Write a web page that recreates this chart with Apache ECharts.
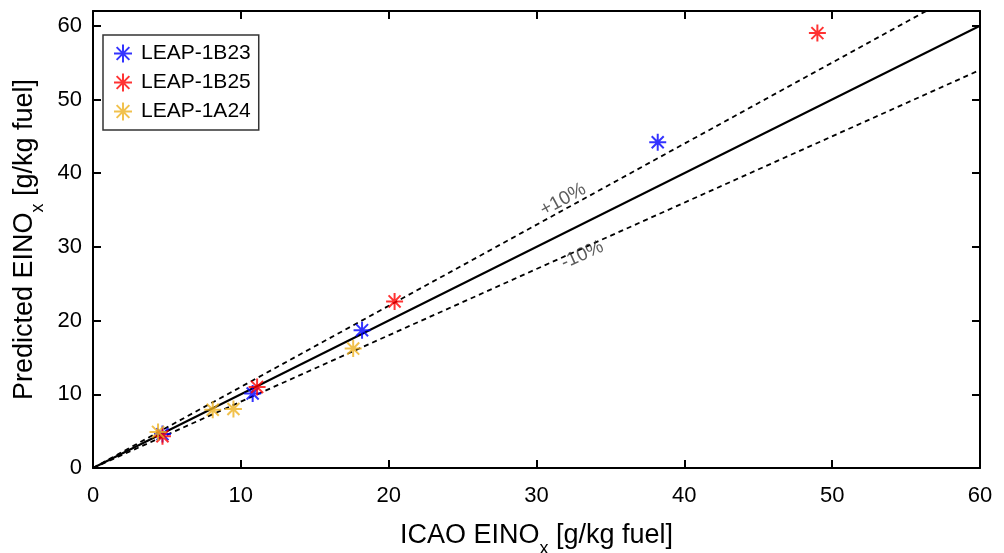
<!DOCTYPE html>
<html><head><meta charset="utf-8">
<script src="https://cdn.jsdelivr.net/npm/echarts@6/dist/echarts.min.js"></script>
<style>html,body{margin:0;padding:0;background:#fff}#c{width:1004px;height:553px}</style>
</head><body><div id="c"></div>
<script>
const seriesNames = ['LEAP-1B23', 'LEAP-1B25', 'LEAP-1A24'];
const colors = ['#0000ff', '#ff0000', '#edb120'];
const b23 = [[4.7, 4.6], [10.8, 10.1], [18.2, 18.7], [38.2, 44.2]];
const b25 = [[4.7, 4.3], [11.1, 11.0], [20.4, 22.6], [49.0, 59.0]];
const a24 = [[4.4, 4.9], [8.1, 7.9], [9.5, 8.0], [17.6, 16.2]];
const xTicks = [0, 10, 20, 30, 40, 50, 60];
const yTicks = [0, 10, 20, 30, 40, 50, 60];
const oneToOne = [[0, 0], [60, 60]];
const plus10 = [[0, 0], [60, 66]];
const minus10 = [[0, 0], [60, 54]];
const labelPlus = [[31.8, 36.4]];
const labelMinus = [[33.1, 28.9]];

const star = 'path://M0,-10L0,10M-10,0L10,0M-7.07,-7.07L7.07,7.07M-7.07,7.07L7.07,-7.07';
const font = '"Liberation Sans",Arial,sans-serif';

const chart = echarts.init(document.getElementById('c'));
function scat(i, data) {
  return {
    name: seriesNames[i], type: 'scatter', data: data, symbol: star, symbolSize: 17, z: 5,
    itemStyle: {color: 'rgba(0,0,0,0)', borderColor: colors[i], borderWidth: 2}
  };
}
function ln(data, dashed) {
  return {
    type: 'line', data: data, symbol: 'none', clip: true, silent: true, z: 3,
    lineStyle: {color: '#000', width: dashed ? 1.8 : 2, type: dashed ? [5, 4] : 'solid'}
  };
}
function lab(data, text, angle) {
  return {
    type: 'scatter', data: data, symbolSize: 0, silent: true, z: 6,
    label: {show: true, position: 'inside', formatter: text, rotate: angle,
      fontFamily: font, fontSize: 19, color: '#333'}
  };
}
const axisCommon = {
  min: 0, interval: 10,
  axisLine: {show: true, onZero: false, lineStyle: {color: '#000', width: 2}},
  axisTick: {show: true, inside: true, length: 8, lineStyle: {color: '#000', width: 2}},
  splitLine: {show: false}
};
const titleRich = {
  a: {fontFamily: font, fontSize: 27, color: '#000', lineHeight: 31},
  s: {fontFamily: font, fontSize: 18, color: '#000', lineHeight: 18, padding: [27, 0, 0, 0]}
};
chart.setOption({
  animation: false,
  grid: {left: 93, right: 24, top: 11, bottom: 85, containLabel: false, outerBoundsMode: 'none'},
  legend: {
    data: seriesNames, orient: 'vertical', left: 103, top: 35,
    backgroundColor: '#fff', borderColor: '#333', borderWidth: 1.5,
    padding: [7, 8, 7, 10], itemGap: 6, itemWidth: 18, itemHeight: 18,
    textStyle: {fontFamily: font, fontSize: 21, color: '#000', lineHeight: 23, padding: [0, 0, 0, 4]}
  },
  xAxis: [
    Object.assign({}, axisCommon, {type: 'value', max: 60, position: 'bottom',
      axisLabel: {fontFamily: font, fontSize: 22, color: '#000', margin: 17,
        customValues: xTicks},
      name: '{a|ICAO EINO}{s|x}{a| [g/kg fuel]}', nameLocation: 'middle', nameGap: 52,
      nameTextStyle: {rich: titleRich}}),
    Object.assign({}, axisCommon, {type: 'value', max: 60, position: 'top', axisLabel: {show: false}})
  ],
  yAxis: [
    Object.assign({}, axisCommon, {type: 'value', max: 62, position: 'left',
      axisLabel: {fontFamily: font, fontSize: 22, color: '#000', margin: 11,
        customValues: yTicks},
      name: '{a|Predicted EINO}{s|x}{a| [g/kg fuel]}', nameLocation: 'middle', nameGap: 50,
      nameTextStyle: {rich: titleRich}}),
    Object.assign({}, axisCommon, {type: 'value', max: 62, position: 'right', axisLabel: {show: false},
      axisTick: {show: true, inside: true, length: 8, lineStyle: {color: '#000', width: 2}, customValues: yTicks}})
  ],
  series: [
    ln(oneToOne, false), ln(plus10, true), ln(minus10, true),
    scat(0, b23), scat(1, b25), scat(2, a24),
    lab(labelPlus, '+10%', 28.7), lab(labelMinus, '-10%', 24.2)
  ]
});
</script></body></html>
